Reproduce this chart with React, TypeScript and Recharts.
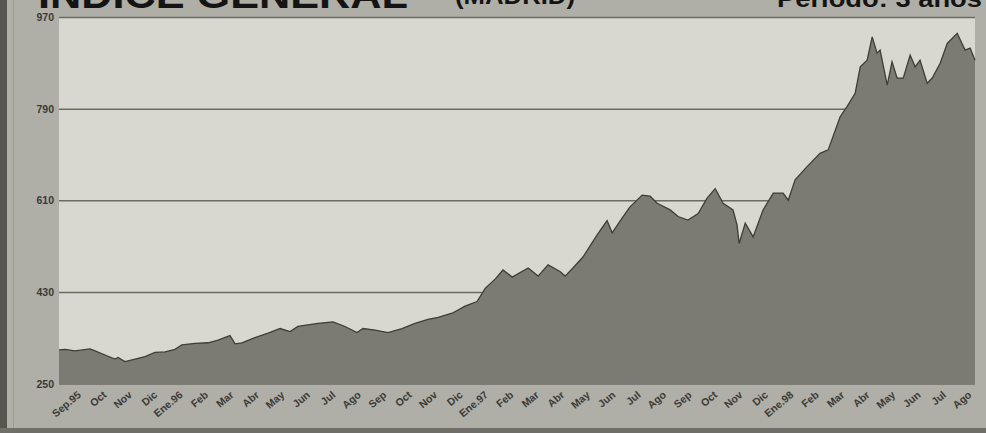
import React from "react";
import { AreaChart, Area, XAxis, YAxis, CartesianGrid } from "recharts";

// Madrid stock exchange general index, Sep 1995 - Aug 1998
const monthLabels = [
  "Sep.95", "Oct", "Nov", "Dic", "Ene.96", "Feb", "Mar", "Abr", "May", "Jun", "Jul", "Ago",
  "Sep", "Oct", "Nov", "Dic", "Ene.97", "Feb", "Mar", "Abr", "May", "Jun", "Jul", "Ago",
  "Sep", "Oct", "Nov", "Dic", "Ene.98", "Feb", "Mar", "Abr", "May", "Jun", "Jul", "Ago",
];

// time of each reading, in months since the start of Sep 1995
const monthPos = [
  0.0, 0.24, 0.63, 1.22, 1.42, 1.81, 2.2, 2.32, 2.59, 2.99, 3.38, 3.77, 4.17, 4.56, 4.83,
  5.35, 5.86, 6.25, 6.72, 6.92, 7.19, 7.7, 8.22, 8.69, 9.08, 9.39, 10.18, 10.77, 11.24,
  11.71, 11.95, 12.42, 12.93, 13.48, 13.99, 14.5, 14.9, 15.45, 15.96, 16.43, 16.75, 17.14,
  17.45, 17.81, 18.44, 18.83, 19.22, 19.69, 19.89, 20.2, 20.6, 21.15, 21.54, 21.74, 22.13,
  22.44, 22.92, 23.23, 23.51, 24.02, 24.33, 24.72, 25.12, 25.47, 25.79, 26.1, 26.49, 26.65,
  26.73, 26.97, 27.28, 27.67, 28.07, 28.46, 28.66, 28.93, 29.4, 29.91, 30.23, 30.7, 30.97,
  31.29, 31.49, 31.76, 31.96, 32.15, 32.27, 32.55, 32.74, 32.94, 33.18, 33.45, 33.65, 33.84,
  34.12, 34.32, 34.63, 34.91, 35.3, 35.61, 35.81, 36.0,
];

const indexValues = [
  317, 318, 315, 319, 315, 307, 299, 302, 294, 299, 304, 312, 313, 318, 327,
  330, 331, 336, 345, 329, 331, 341, 350, 359, 353, 363, 369, 372, 363,
  351, 359, 356, 351, 359, 369, 377, 381, 389, 403, 412, 438, 456,
  474, 460, 478, 462, 484, 471, 462, 478, 500, 543, 571, 547, 576,
  598, 621, 619, 605, 592, 579, 572, 585, 615, 634, 605, 592, 562,
  526, 566, 539, 592, 625, 625, 611, 651, 677, 703, 710, 775, 795,
  821, 873, 886, 932, 900, 906, 837, 883, 851, 851, 896, 873, 886,
  841, 851, 880, 919, 939, 906, 910, 886,
];

const yTicks = [250, 430, 610, 790, 970];

const data = monthPos.map((t, i) => ({ t, v: indexValues[i] }));
const xTicks = monthLabels.map((_, i) => i + 0.5);

const FONT = "Liberation Sans, Arial, sans-serif";

const MonthTick = (props: any) => {
  const { x, y, payload } = props;
  const label = monthLabels[Math.floor(payload.value)];
  const tx = x + 10;
  const ty = y + 12;
  return (
    <text
      x={tx}
      y={ty}
      transform={`rotate(-40 ${tx} ${ty})`}
      textAnchor="end"
      fontSize={10.5}
      fontWeight="bold"
      fontFamily={FONT}
      fill="#3a3a36"
    >
      {label}
    </text>
  );
};

export default function App() {
  return (
    <div
      style={{
        position: "absolute",
        left: 0,
        top: 0,
        width: 986,
        height: 433,
        background: "#afaea7",
        overflow: "hidden",
      }}
    >
      <div style={{ position: "absolute", left: 0, top: 0, width: 7, height: 433, background: "#56554f" }} />
      <div style={{ position: "absolute", left: 13, top: 0, width: 1, height: 433, background: "#9c9b94" }} />
      <div style={{ position: "absolute", left: 0, top: 428, width: 986, height: 5, background: "#6f6e68" }} />
      <AreaChart
        width={986}
        height={433}
        data={data}
        margin={{ top: 17.5, right: 11, left: 0, bottom: 0 }}
        style={{ position: "absolute", left: 0, top: 0 }}
      >
        <CartesianGrid
          vertical={false}
          fill="#d8d7d0"
          stroke="#6c6b65"
          strokeWidth={1.5}
        />
        <XAxis
          dataKey="t"
          type="number"
          domain={[0, 36]}
          ticks={xTicks}
          interval={0}
          tick={<MonthTick />}
          tickSize={0}
          tickMargin={0}
          tickLine={false}
          axisLine={false}
          height={49}
        />
        <YAxis
          type="number"
          domain={[250, 970]}
          ticks={yTicks}
          interval={0}
          width={59}
          tickLine={false}
          axisLine={false}
          tickSize={0}
          tickMargin={5}
          tick={{ fontSize: 10.5, fontWeight: "bold", fill: "#3a3a36", fontFamily: FONT }}
        />
        <Area
          type="linear"
          dataKey="v"
          stroke="#3d3d39"
          strokeWidth={1.3}
          fill="#7b7a73"
          fillOpacity={1}
          baseValue={250}
          isAnimationActive={false}
        />
      </AreaChart>
      <svg
        width={986}
        height={12}
        style={{ position: "absolute", left: 0, top: 0 }}
      >
        <text
          x={38}
          y={8}
          fontSize={36}
          fontWeight="bold"
          fontFamily={FONT}
          fill="#141414"
          textLength={370}
          lengthAdjust="spacingAndGlyphs"
        >
          INDICE GENERAL
        </text>
        <text
          x={455}
          y={4}
          fontSize={24}
          fontWeight="bold"
          fontFamily={FONT}
          fill="#141414"
          textLength={120}
          lengthAdjust="spacingAndGlyphs"
        >
          (MADRID)
        </text>
        <text
          x={777}
          y={7}
          fontSize={24}
          fontWeight="bold"
          fontFamily={FONT}
          fill="#141414"
          textLength={205}
          lengthAdjust="spacingAndGlyphs"
        >
          Periodo: 3 años
        </text>
      </svg>
    </div>
  );
}
